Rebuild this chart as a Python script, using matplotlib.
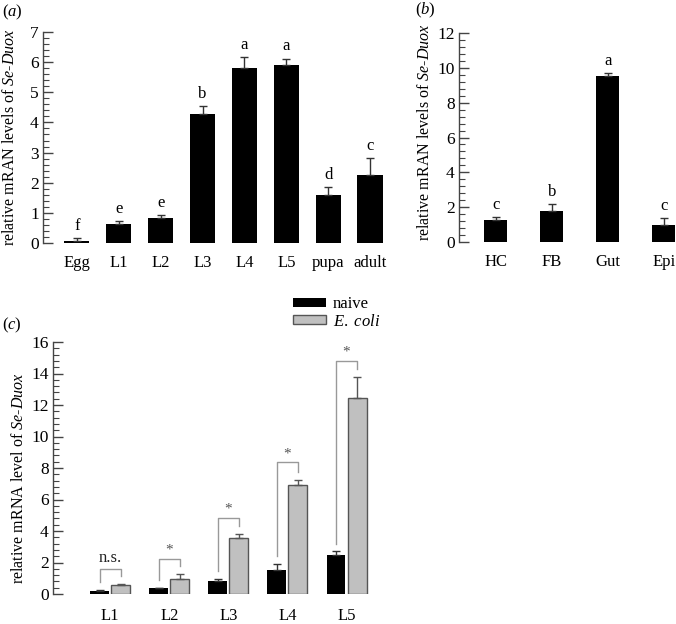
import numpy as np
import matplotlib
matplotlib.use('Agg')
import matplotlib.pyplot as plt
from matplotlib.ticker import MultipleLocator

plt.rcParams['font.family'] = ['Liberation Serif', 'DejaVu Serif']
plt.rcParams['mathtext.fontset'] = 'custom'
plt.rcParams['mathtext.rm'] = 'Liberation Serif'
plt.rcParams['mathtext.it'] = 'Liberation Serif:italic'

# (a) developmental stages
stages = ['Egg', 'L1', 'L2', 'L3', 'L4', 'L5', 'pupa', 'adult']
stage_vals = [0.08, 0.62, 0.82, 4.28, 5.82, 5.92, 1.58, 2.27]
stage_err = [0.07, 0.10, 0.10, 0.25, 0.35, 0.20, 0.27, 0.55]
stage_letters = ['f', 'e', 'e', 'b', 'a', 'a', 'd', 'c']

# (b) tissues
tissues = ['HC', 'FB', 'Gut', 'Epi']
tissue_vals = [1.25, 1.80, 9.55, 1.00]
tissue_err = [0.18, 0.40, 0.15, 0.38]
tissue_letters = ['c', 'b', 'a', 'c']

# (c) naive vs E. coli
larvae = ['L1', 'L2', 'L3', 'L4', 'L5']
naive_vals = [0.20, 0.35, 0.85, 1.55, 2.45]
naive_err = [0.05, 0.05, 0.12, 0.35, 0.25]
ecoli_vals = [0.55, 0.95, 3.55, 6.90, 12.45]
ecoli_err = [0.10, 0.30, 0.25, 0.35, 1.35]
bracket_y = [1.6, 2.25, 4.8, 8.35, 14.8]
sig_marks = ['n.s.', '*', '*', '*', '*']

W, H = 676, 624
fig = plt.figure(figsize=(W / 100, H / 100), dpi=100)


def px_axes(left, top, right, bottom):
    return fig.add_axes([left / W, 1 - bottom / H, (right - left) / W, (bottom - top) / H])


def style_axis(ax, ymax, major, minor, xpad):
    for s in ['top', 'right', 'bottom']:
        ax.spines[s].set_visible(False)
    ax.spines['left'].set_color('#444444')
    ax.spines['left'].set_linewidth(1.0)
    ax.set_ylim(0, ymax)
    ax.yaxis.set_major_locator(MultipleLocator(major))
    ax.yaxis.set_minor_locator(MultipleLocator(minor))
    ax.tick_params(axis='y', which='major', direction='in', length=7, width=1,
                   color='#444444', labelsize=12.5, pad=3)
    ax.tick_params(axis='y', which='minor', direction='in', length=4, width=0.8,
                   color='#444444')
    ax.tick_params(axis='x', length=0, labelsize=12, pad=xpad)


# ---- (a)
ax1 = px_axes(43, 32, 391, 243)
x1 = np.arange(len(stages))
ax1.bar(x1, stage_vals, width=0.6, color='black')
ax1.errorbar(x1, stage_vals, yerr=[np.zeros(len(stage_err)), stage_err], fmt='none',
             ecolor='#333333', elinewidth=1, capsize=3, capthick=1)
for xi, v, e, t in zip(x1, stage_vals, stage_err, stage_letters):
    ax1.annotate(t, (xi, v + e), xytext=(0, 3), textcoords='offset points',
                 ha='center', va='bottom', fontsize=12)
ax1.set_xlim(-0.81, 7.5)
ax1.set_xticks(x1)
ax1.set_xticklabels(stages)
style_axis(ax1, 7, 1, 0.2, 9)
ax1.set_ylabel(r'relative mRAN levels of $\it{Se}$-$\it{Duox}$', fontsize=11.5)
ax1.yaxis.set_label_coords(-0.072, 0.5)
fig.text(2 / W, 1 - 12 / H, r'($\it{a}$)', fontsize=12, va='center')

# ---- (b)
ax2 = px_axes(459, 33, 676, 242)
x2 = np.arange(len(tissues))
ax2.bar(x2, tissue_vals, width=0.41, color='black')
ax2.errorbar(x2, tissue_vals, yerr=[np.zeros(len(tissue_err)), tissue_err], fmt='none',
             ecolor='#333333', elinewidth=1, capsize=3, capthick=1)
for xi, v, e, t in zip(x2, tissue_vals, tissue_err, tissue_letters):
    ax2.annotate(t, (xi, v + e), xytext=(0, 3), textcoords='offset points',
                 ha='center', va='bottom', fontsize=12)
ax2.set_xlim(-0.66, 3.215)
ax2.set_xticks(x2)
ax2.set_xticklabels(tissues)
style_axis(ax2, 12, 2, 0.4, 9)
ax2.set_ylabel(r'relative mRAN levels of $\it{Se}$-$\it{Duox}$', fontsize=11.5)
ax2.yaxis.set_label_coords(-0.12, 0.524)
fig.text(415 / W, 1 - 10 / H, r'($\it{b}$)', fontsize=12, va='center')

# ---- (c)
ax3 = px_axes(53, 342, 382, 594)
x3 = np.arange(len(larvae))
off = 0.178
bw = 0.32
b_naive = ax3.bar(x3 - off, naive_vals, width=bw, color='black', label='naive')
b_ecoli = ax3.bar(x3 + off, ecoli_vals, width=bw, color='#c0c0c0', edgecolor='#555555',
                  linewidth=1, label=r'$\it{E.\ coli}$')
ax3.errorbar(x3 - off, naive_vals, yerr=[np.zeros(5), naive_err], fmt='none',
             ecolor='#333333', elinewidth=1, capsize=3, capthick=1)
ax3.errorbar(x3 + off, ecoli_vals, yerr=[np.zeros(5), ecoli_err], fmt='none',
             ecolor='#555555', elinewidth=1, capsize=3, capthick=1)
gap = 0.5
for xi, nv, ne, ev, ee, by, m in zip(x3, naive_vals, naive_err, ecoli_vals, ecoli_err,
                                     bracket_y, sig_marks):
    ax3.plot([xi - off, xi - off, xi + off, xi + off],
             [nv + ne + gap, by, by, ev + ee + gap], color='#999999', lw=1)
    ax3.text(xi, by + 0.15, m, ha='center', va='bottom',
             fontsize=12 if m == 'n.s.' else 11, color='#222222' if m == 'n.s.' else '#555555')
ax3.set_xlim(-0.966, 4.6)
ax3.set_xticks(x3)
ax3.set_xticklabels(larvae)
style_axis(ax3, 16, 2, 0.4, 10)
ax3.set_ylabel(r'relative mRNA level of $\it{Se}$-$\it{Duox}$', fontsize=11.5)
ax3.yaxis.set_label_coords(-0.079, 0.46)
fig.text(2 / W, 1 - 325 / H, r'($\it{c}$)', fontsize=12, va='center')

fig.legend(handles=[b_naive, b_ecoli], loc='upper left',
           bbox_to_anchor=(293 / W, 1 - 296 / H), frameon=False, fontsize=12,
           handlelength=2.0, handleheight=0.45, labelspacing=0.1, handletextpad=0.4,
           borderaxespad=0, borderpad=0)

fig.savefig('out.png', dpi=100)
